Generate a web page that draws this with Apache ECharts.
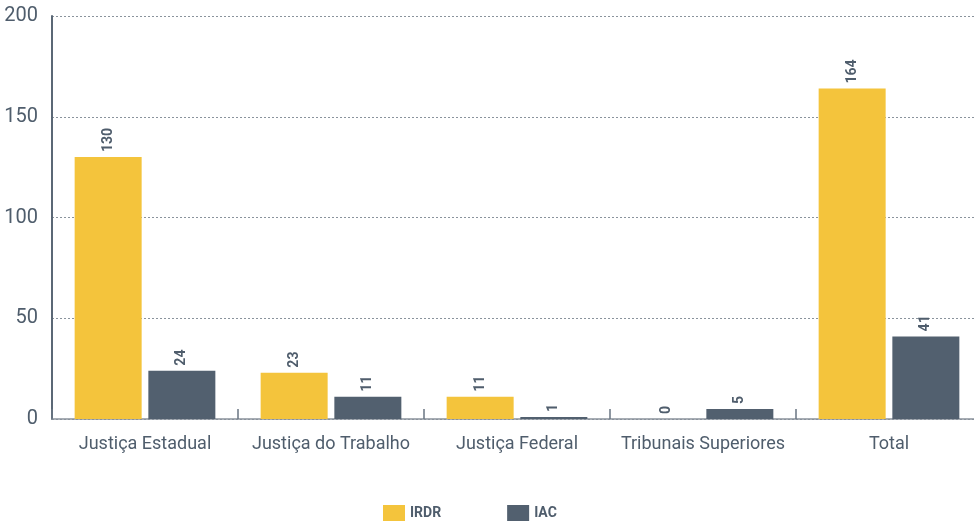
<!DOCTYPE html>
<html><head><meta charset="utf-8">
<script src="https://cdn.jsdelivr.net/npm/echarts@6/dist/echarts.min.js"></script>
<style>html,body{margin:0;padding:0;background:#fff}#c{width:974px;height:521px}</style>
</head><body><div id="c"></div>
<script>
const categories = ['Justiça Estadual', 'Justiça do Trabalho', 'Justiça Federal', 'Tribunais Superiores', 'Total'];
const irdr = [130, 23, 11, 0, 164];
const iac = [24, 11, 1, 5, 41];
const yTicks = [0, 50, 100, 150, 200];

const font = 'Roboto, "Liberation Sans Narrow", sans-serif';
const txt = '#4f5d6c';
const chart = echarts.init(document.getElementById('c'));
const lbl = {
  show: true, position: 'top', rotate: 90, align: 'left', verticalAlign: 'middle',
  distance: 5, color: txt, fontWeight: 'bold', fontSize: 14, fontFamily: font
};
chart.setOption({
  animation: false,
  grid: { left: 52, width: 930, top: 16, bottom: 102, containLabel: false, outerBoundsMode: 'none' },
  legend: {
    bottom: 0, left: 383, padding: 0, itemWidth: 22, itemHeight: 16, itemGap: 66,
    textStyle: { color: txt, fontWeight: 'bold', fontSize: 14, fontFamily: font },
    data: ['IRDR', 'IAC'], icon: 'rect'
  },
  xAxis: {
    type: 'category', data: categories,
    axisLine: { lineStyle: { color: '#8a939c', width: 1.5 } },
    axisTick: { show: true, inside: true, length: 10, lineStyle: { color: '#6a7683', width: 1.5 } },
    axisLabel: { color: txt, fontSize: 18, fontFamily: font, margin: 16, interval: 0 }
  },
  yAxis: {
    type: 'value', min: yTicks[0], max: yTicks[yTicks.length - 1], interval: 50,
    axisLine: { show: true, lineStyle: { color: '#5b6876', width: 2 } },
    axisTick: { show: false },
    axisLabel: { color: txt, fontSize: 20, fontFamily: font, margin: 14 },
    splitLine: { lineStyle: { color: '#8a939c', type: [2, 2], width: 1 } }
  },
  series: [
    { name: 'IRDR', type: 'bar', data: irdr, barWidth: 67, barGap: '10%',
      itemStyle: { color: '#F4C43C' }, label: lbl },
    { name: 'IAC', type: 'bar', data: iac, barWidth: 67,
      itemStyle: { color: '#52606F' }, label: lbl }
  ]
});
</script></body></html>
